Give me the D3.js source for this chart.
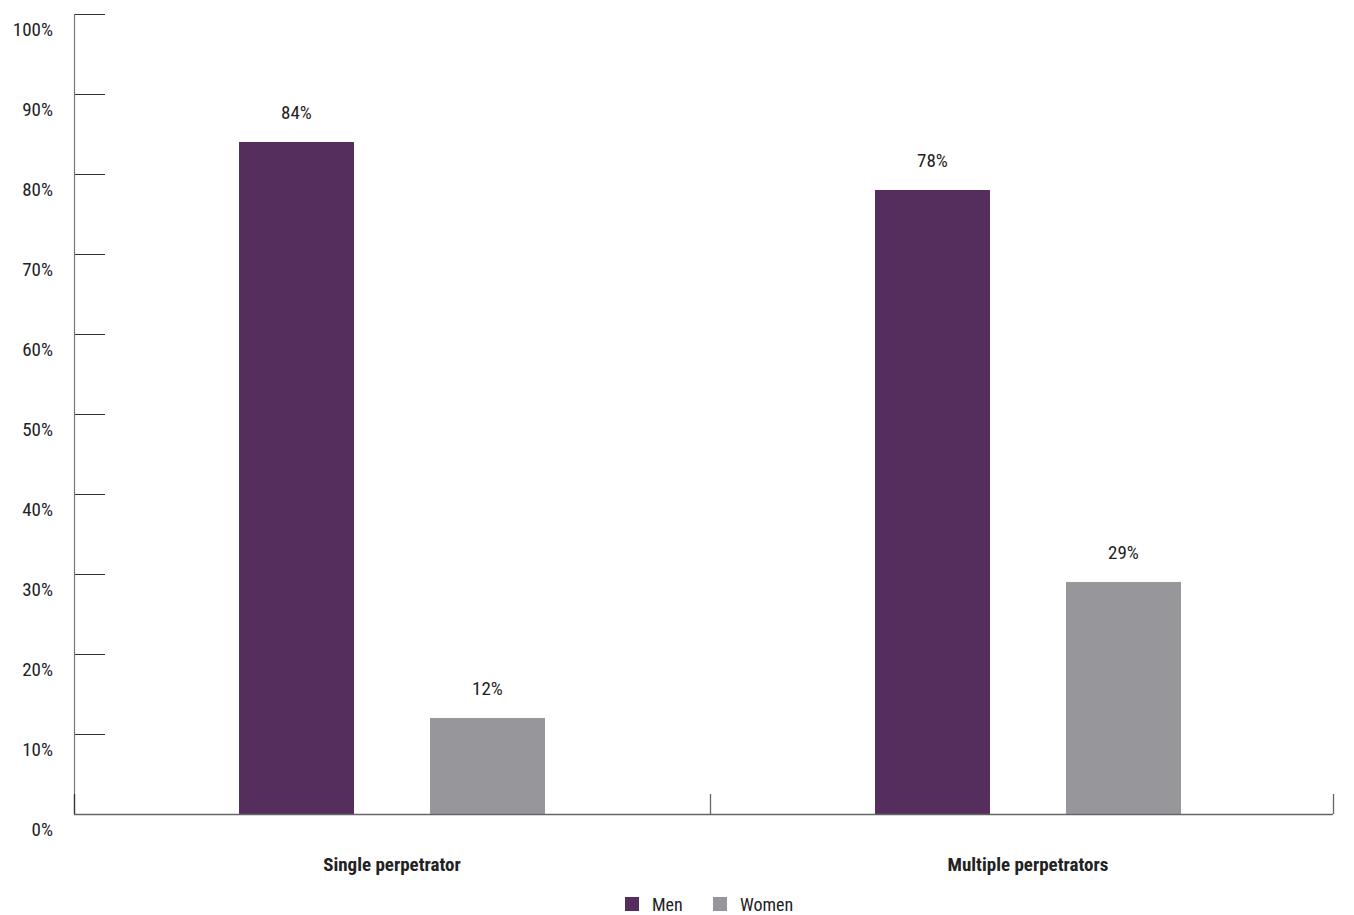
<!DOCTYPE html>
<html>
<head>
<meta charset="utf-8">
<script src="https://cdn.jsdelivr.net/npm/d3@7"></script>
<style>
  html, body { margin: 0; padding: 0; background: #fff; }
  svg text { font-family: "Roboto Condensed", "Liberation Sans Narrow", "Arial Narrow", Roboto, sans-serif; fill: #222; }
</style>
</head>
<body>
<svg id="chart" width="1354" height="915"></svg>
<script>
// Share of perpetrators by sex, split by number of perpetrators
const categories = ["Single perpetrator", "Multiple perpetrators"];
const seriesNames = ["Men", "Women"];
const menValues = [84, 78];
const womenValues = [12, 29];
const yTicks = [0, 10, 20, 30, 40, 50, 60, 70, 80, 90, 100];
const colors = ["#562e5e", "#97979b"];

const svg = d3.select("#chart");
const plotLeft = 74, plotTop = 14, plotBottom = 814;
const fontSize = 19;

const x = d3.scaleBand().domain(categories).range([plotLeft, plotLeft + 636 * 2]);
const inner = d3.scaleBand().domain(seriesNames)
  .range([165, 471]).paddingInner(0.398);
const y = d3.scaleLinear().domain([0, 100]).range([plotBottom, plotTop]);

// Y axis: line with ticks pointing into the plot, labels set just below each tick
const yAxis = svg.append("g").attr("transform", `translate(${plotLeft},0)`)
  .call(d3.axisRight(y).tickValues(yTicks).tickSize(31).tickFormat(""));
yAxis.select(".domain").remove();
yAxis.selectAll(".tick line").attr("stroke", "#333").attr("stroke-width", 1);
svg.append("line").attr("x1", plotLeft + 0.5).attr("x2", plotLeft + 0.5)
  .attr("y1", plotTop).attr("y2", plotBottom).attr("stroke", "#777").attr("stroke-width", 1.2);

svg.append("g").selectAll("text").data(yTicks).join("text")
  .attr("x", 53).attr("y", d => y(d) + 15)
  .attr("text-anchor", "end").attr("dominant-baseline", "central")
  .attr("font-size", fontSize).text(d => d + "%");

// Bars with value labels above them
const groups = svg.append("g").selectAll("g").data(categories).join("g")
  .attr("transform", c => `translate(${x(c)},0)`);
const pairs = (c, i) => [{ s: "Men", v: menValues[i] }, { s: "Women", v: womenValues[i] }];
groups.selectAll("rect").data(pairs).join("rect")
  .attr("x", d => inner(d.s)).attr("width", inner.bandwidth())
  .attr("y", d => y(d.v)).attr("height", d => y(0) - y(d.v))
  .attr("fill", (d, i) => colors[i]);
groups.selectAll("text.val").data(pairs).join("text").attr("class", "val")
  .attr("x", d => inner(d.s) + inner.bandwidth() / 2)
  .attr("y", d => y(d.v) - 30)
  .attr("text-anchor", "middle").attr("dominant-baseline", "central")
  .attr("font-size", fontSize).text(d => d.v + "%");

// X axis baseline with category separators
const xEnd = 1333;
svg.append("line").attr("x1", plotLeft).attr("x2", xEnd)
  .attr("y1", plotBottom + 0.5).attr("y2", plotBottom + 0.5)
  .attr("stroke", "#666").attr("stroke-width", 1.5);
const sepX = [plotLeft, x(categories[1]), xEnd];
svg.append("g").selectAll("line").data(sepX).join("line")
  .attr("x1", d => d + 0.5).attr("x2", d => d + 0.5)
  .attr("y1", plotBottom - 20).attr("y2", plotBottom)
  .attr("stroke", (d, i) => i === 0 ? "#333" : "#666").attr("stroke-width", 1.3);

svg.append("g").selectAll("text").data(categories).join("text")
  .attr("x", c => x(c) + x.bandwidth() / 2).attr("y", 864)
  .attr("text-anchor", "middle").attr("dominant-baseline", "central")
  .attr("font-size", fontSize).attr("font-weight", "bold").text(c => c);

// Legend
const legendX = [625, 713];
const legend = svg.append("g").selectAll("g").data(seriesNames).join("g")
  .attr("transform", (d, i) => `translate(${legendX[i]},897)`);
legend.append("rect").attr("width", 14).attr("height", 14)
  .attr("fill", (d, i) => colors[i]);
legend.append("text").attr("x", 27).attr("y", 7)
  .attr("dominant-baseline", "central").attr("font-size", 18).text(d => d);
</script>
</body>
</html>
